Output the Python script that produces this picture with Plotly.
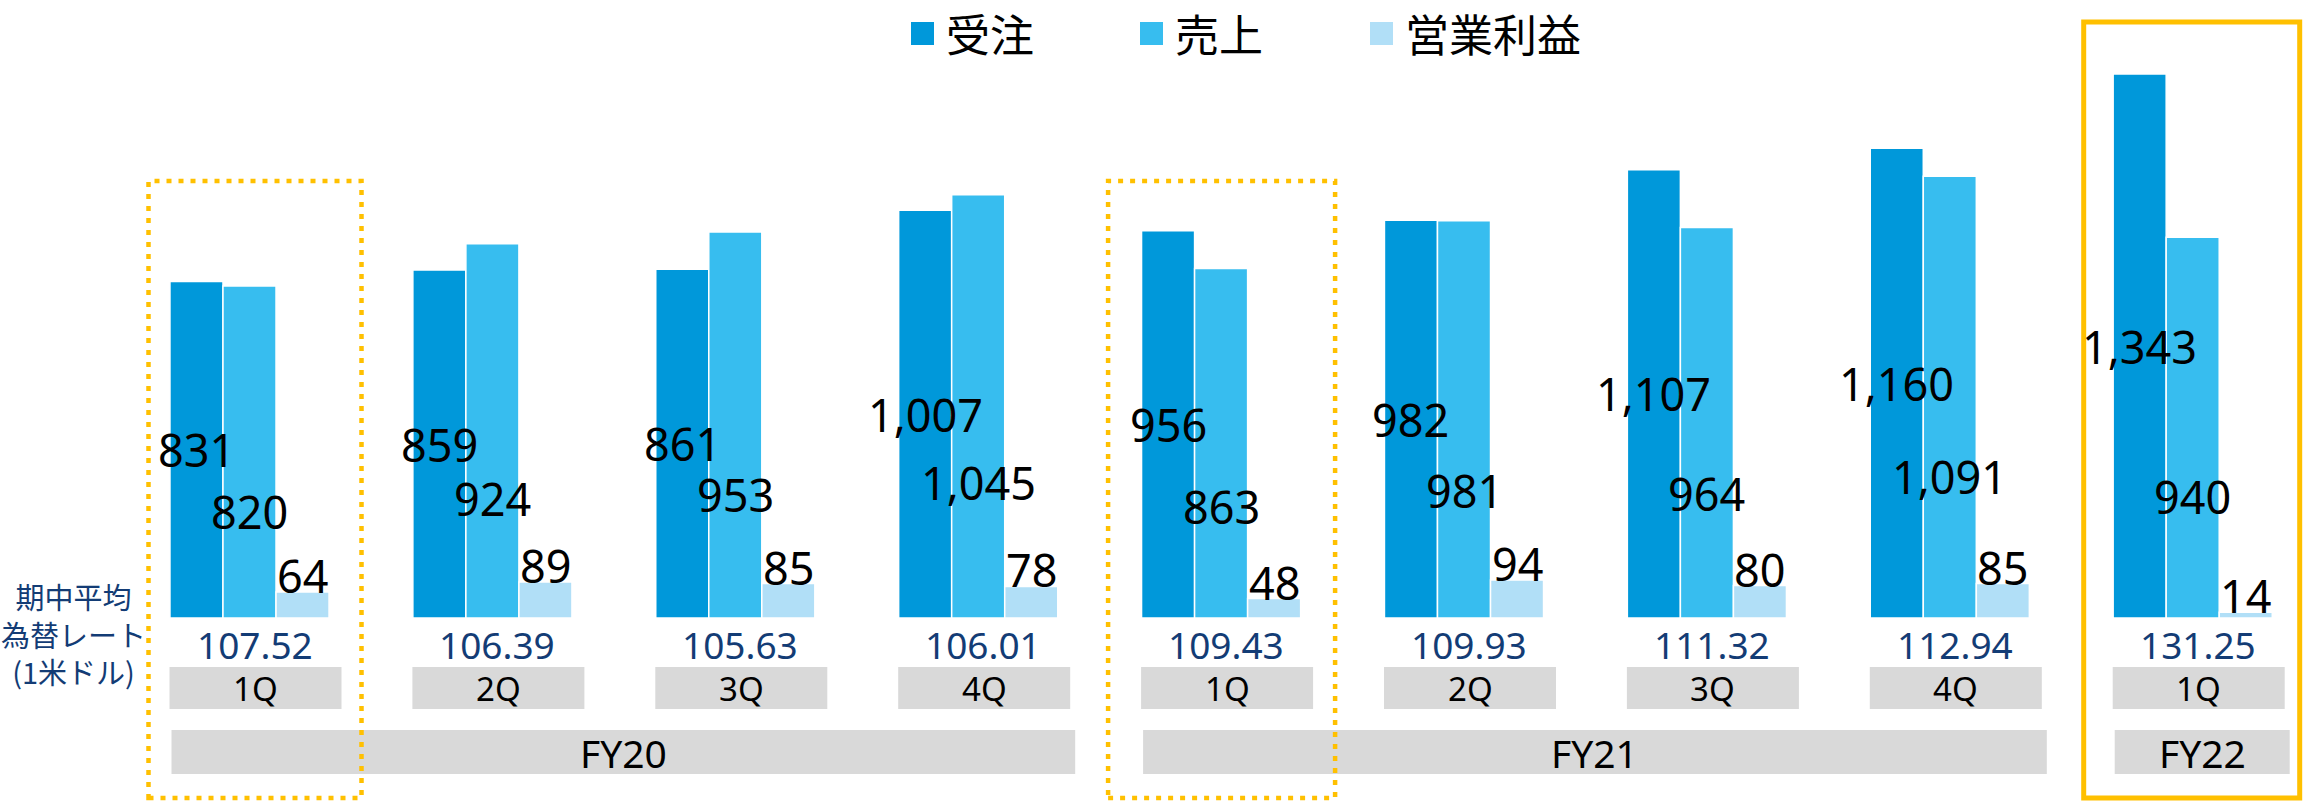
import plotly.graph_objects as go
from itertools import groupby

# ---------------- data ----------------
FISCAL_YEARS = ["FY20", "FY20", "FY20", "FY20", "FY21", "FY21", "FY21", "FY21", "FY22"]
QUARTERS = ["1Q", "2Q", "3Q", "4Q", "1Q", "2Q", "3Q", "4Q", "1Q"]
ORDERS = [831, 859, 861, 1007, 956, 982, 1107, 1160, 1343]      # 受注
SALES = [820, 924, 953, 1045, 863, 981, 964, 1091, 940]         # 売上
PROFIT = [64, 89, 85, 78, 48, 94, 80, 85, 14]                   # 営業利益
FX_RATE = [107.52, 106.39, 105.63, 106.01, 109.43, 109.93, 111.32, 112.94, 131.25]
SERIES_NAMES = ["受注", "売上", "営業利益"]
FX_TITLE = "期中平均<br>為替レート<br>(1米ドル)"

# ---------------- layout geometry (pixels of the 2303x801 page) ----------------
W, H = 2303, 801
X0PX, XSTEP = 249.5, 242.9      # pixel of first group centre, pixels per group
BASE, YS = 618.0, 0.405         # pixel of zero line, pixels per unit
BAR_GROUP = 0.655               # fraction of slot occupied by a group
BW = BAR_GROUP / 3


def dx(px):
    return px / XSTEP


def py(pyx):
    return (BASE - pyx) / YS


COLORS = ["#0098DA", "#37BDEF", "#B1DFF7"]
GRAY = "#D9D9D9"
GOLD = "#FFC000"
NAVY = "#133C75"
NUM_FONT = "Noto Sans, Noto Sans CJK JP, sans-serif"
JP_FONT = "Noto Sans CJK JP, Noto Sans, sans-serif"

idx = list(range(len(QUARTERS)))
fig = go.Figure()
for name, vals, col in zip(SERIES_NAMES, [ORDERS, SALES, PROFIT], COLORS):
    fig.add_trace(go.Bar(x=idx, y=vals, name=name, marker_color=col,
                         marker_line_color="white", marker_line_width=1.5,
                         showlegend=False, hoverinfo="x+y+name"))

ann = []
shapes = []
LBL = dict(size=45, color="black", family=NUM_FONT)

# data labels
for i in idx:
    ann.append(dict(x=i - BW, y=ORDERS[i] * 0.50, xref="x", yref="y", text=f"{ORDERS[i]:,}",
                    showarrow=False, font=LBL, xanchor="center", yanchor="middle"))
    ann.append(dict(x=i, y=SALES[i] * 0.32, xref="x", yref="y", text=f"{SALES[i]:,}",
                    showarrow=False, font=LBL, xanchor="center", yanchor="middle"))
    ann.append(dict(x=i + BW, y=PROFIT[i], xref="x", yref="y", text=f"{PROFIT[i]:,}",
                    showarrow=False, font=LBL, xanchor="center", yanchor="bottom", yshift=-16))
    # FX rate
    ann.append(dict(x=i + dx(5), y=py(644), xref="x", yref="y", text=f"{FX_RATE[i]:.2f}",
                    showarrow=False, font=dict(size=37, color=NAVY, family=NUM_FONT),
                    xanchor="center", yanchor="middle"))
    # quarter boxes
    shapes.append(dict(type="rect", xref="x", yref="y", x0=i - dx(80), x1=i + dx(92),
                       y0=py(709), y1=py(667), fillcolor=GRAY, line_width=0, layer="below"))
    ann.append(dict(x=i + dx(6), y=py(688), xref="x", yref="y", text=QUARTERS[i],
                    showarrow=False, font=dict(size=33, color="black", family=NUM_FONT),
                    xanchor="center", yanchor="middle"))

# fiscal year boxes
start = 0
for fy, grp in groupby(FISCAL_YEARS):
    n = len(list(grp))
    first, last = start, start + n - 1
    x0, x1 = first - dx(78), last + dx(97)
    shapes.append(dict(type="rect", xref="x", yref="y", x0=x0, x1=x1,
                       y0=py(774), y1=py(730), fillcolor=GRAY, line_width=0, layer="below"))
    ann.append(dict(x=(x0 + x1) / 2, y=py(752), xref="x", yref="y", text=fy, showarrow=False,
                    font=dict(size=39, color="black", family=NUM_FONT),
                    xanchor="center", yanchor="middle"))
    start += n

# highlight frames (dotted: first quarters of FY20/FY21, solid: latest quarter)
for i, left, right in [(0, 101, 112), (4, 113, 114)]:
    shapes.append(dict(type="rect", xref="x", yref="y", x0=i - dx(left), x1=i + dx(right),
                       y0=py(798), y1=py(181), fillcolor="rgba(0,0,0,0)",
                       line=dict(color=GOLD, width=4.5, dash="5px,7px")))
shapes.append(dict(type="rect", xref="x", yref="y", x0=8 - dx(109), x1=8 + dx(107),
                   y0=py(798), y1=py(22), fillcolor="rgba(0,0,0,0)",
                   line=dict(color=GOLD, width=5)))

# FX title
ann.append(dict(x=73 / W, y=1 - 633 / H, xref="paper", yref="paper", text=FX_TITLE,
                showarrow=False, font=dict(size=29, color=NAVY, family=JP_FONT),
                xanchor="center", yanchor="middle", align="center"))

# manual legend
for name, col, lx in zip(SERIES_NAMES, COLORS, [911, 1140, 1370]):
    shapes.append(dict(type="rect", xref="paper", yref="paper", x0=lx / W, x1=(lx + 23) / W,
                       y0=1 - 45 / H, y1=1 - 22 / H, fillcolor=col, line_width=0))
    ann.append(dict(x=(lx + 33) / W, y=1 - 33 / H, xref="paper", yref="paper", text=name,
                    showarrow=False, font=dict(size=44, color="black", family=JP_FONT),
                    xanchor="left", yanchor="middle"))

fig.update_layout(
    width=W, height=H, margin=dict(l=0, r=0, t=0, b=0),
    paper_bgcolor="white", plot_bgcolor="white",
    barmode="group", bargap=1 - BAR_GROUP, bargroupgap=0,
    xaxis=dict(range=[-X0PX / XSTEP, 8 + (W - (X0PX + 8 * XSTEP)) / XSTEP],
               visible=False, fixedrange=True),
    yaxis=dict(range=[py(H), py(0)], visible=False, fixedrange=True),
    annotations=ann, shapes=shapes,
)
fig.write_html("out.html", config={"displayModeBar": False},
               post_script="document.body.style.margin='0';document.body.style.overflow='hidden';")
